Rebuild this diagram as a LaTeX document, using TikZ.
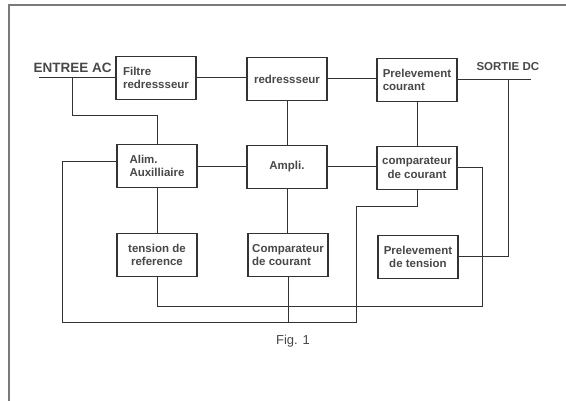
\documentclass[tikz,border=0pt]{standalone}
\usepackage{fontspec}
\setmainfont{Liberation Sans}
\definecolor{inkline}{HTML}{333333}
\definecolor{inktext}{HTML}{484848}
\definecolor{frameg}{HTML}{7A7A7A}
\begin{document}
\begin{tikzpicture}[x=1pt,y=-1pt,font=\fontsize{11.5}{13.5}\selectfont\bfseries,
  blok/.style={draw=inkline,line width=1.1pt,minimum width=80pt,minimum height=43pt,
    inner sep=2pt,text=inktext},
  wire/.style={inkline,line width=1pt}]
  \useasboundingbox (0,0) rectangle (566,401);
  \draw[frameg,line width=2pt] (8.5,401) -- (8.5,5.5) -- (566,5.5);
  % blocs
  \node[blok,align=left]   (filtre)  at (156,78)  {Filtre\\redressseur};
  \node[blok,align=center] (redr)    at (287,79)  {redressseur};
  \node[blok,align=left]   (prelC)   at (417,80)  {Prelevement\\courant};
  \node[blok,align=left]   (alim)    at (157,166) {Alim.\\Auxilliaire};
  \node[blok,align=center] (ampli)   at (287,167) {Ampli.};
  \node[blok,align=center] (compC)   at (417,168) {comparateur\\de courant};
  \node[blok,align=center] (tensRef) at (157,255) {tension de\\reference};
  \node[blok,align=left]   (compB)   at (288,255) {Comparateur\\de courant};
  \node[blok,align=center] (prelT)   at (418,257) {Prelevement\\de tension};
  % textes
  \node[anchor=west,text=inktext,font=\fontsize{13.5}{15}\selectfont\bfseries] (acTxt) at (30,68) {ENTREE AC};
  \node[anchor=west,text=inktext] (dcTxt) at (473,67) {SORTIE DC};
  \node[text=inktext,font=\fontsize{13}{15}\selectfont] (figTxt) at (293,341) {Fig. 1};
  % points de liaison
  \coordinate (acIn) at (39,78);
  \coordinate (jAC) at (72,78);
  \coordinate (kAC) at (157,116);
  \coordinate (dcOut) at (531,80);
  \coordinate (jDC) at (508,80);
  \coordinate (rLoop) at (482,307);
  \coordinate (gL) at (62,323);
  \coordinate (gT) at (356,207);
  % liaisons
  \draw[wire] (acIn) -- (filtre.west);
  \draw[wire] (jAC) |- (kAC) -- (alim.north);
  \draw[wire] (filtre.east) -- (filtre.east -| redr.west);
  \draw[wire] (redr.east) -- (redr.east -| prelC.west);
  \draw[wire] (prelC.east) -- (dcOut);
  \draw[wire] (jDC) |- (prelT.east);
  \draw[wire] (redr.south) -- (ampli.north);
  \draw[wire] (prelC.south) -- (compC.north);
  \draw[wire] (ampli.west) -- (ampli.west -| alim.east);
  \draw[wire] (ampli.east) -- (ampli.east -| compC.west);
  \draw[wire] (alim.south) -- (tensRef.north);
  \draw[wire] (ampli.south) -- (ampli.south |- compB.north);
  \draw[wire] (compC.east) -| (rLoop) -| (tensRef.south);
  \draw[wire] ([yshift=4pt]alim.west) -| (gL) -| (gT) -| (compC.south);
  \draw[wire] (compB.south) -- (compB.south |- gL);
\end{tikzpicture}
\end{document}
